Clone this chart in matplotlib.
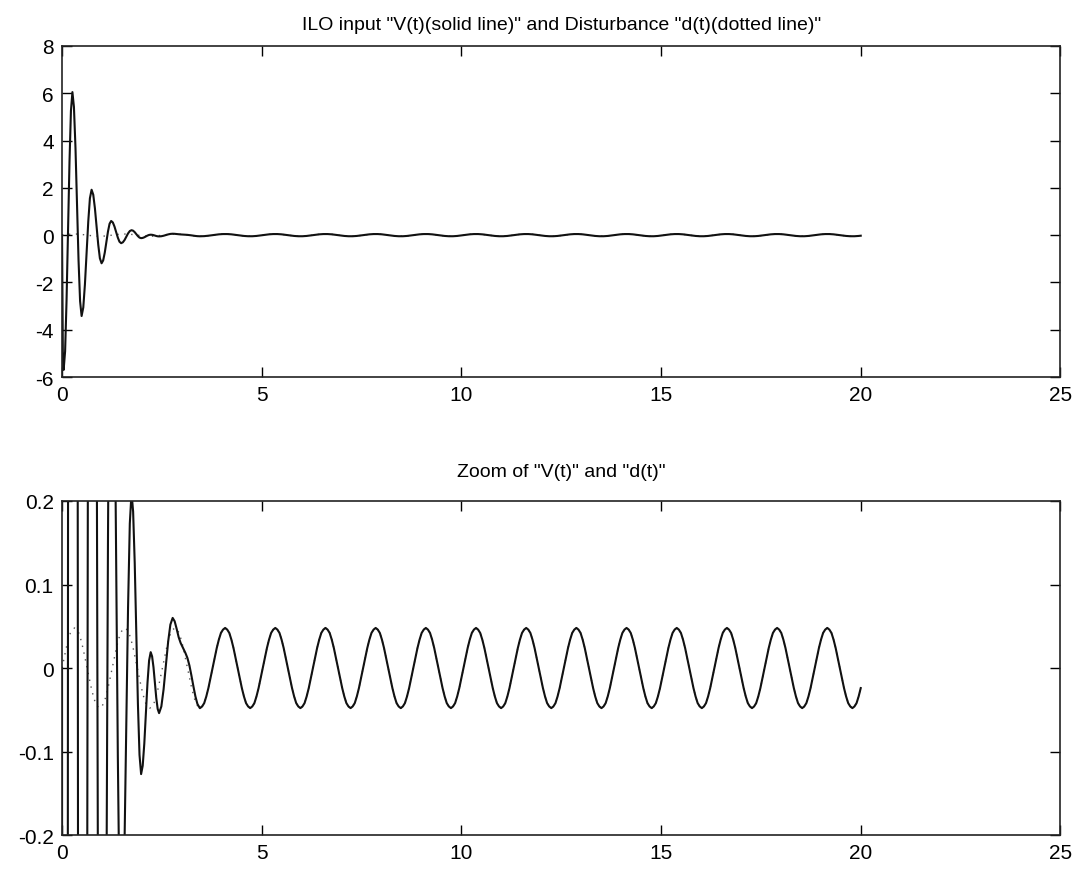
import matplotlib
matplotlib.use("Agg")
import matplotlib.pyplot as plt
import numpy as np

plt.rcParams['font.family'] = ['Liberation Sans', 'DejaVu Sans']
plt.rcParams['axes.unicode_minus'] = False

# transient part of the ILO input V(t), t in seconds
t_trans = [0.00, 0.01, 0.02, 0.03, 0.04,
           0.077, 0.113, 0.15, 0.187, 0.223, 0.26,
           0.298, 0.337, 0.375, 0.413, 0.452, 0.49,
           0.532, 0.573, 0.615, 0.657, 0.698, 0.74,
           0.782, 0.823, 0.865, 0.907, 0.948, 0.99,
           1.03, 1.07, 1.11, 1.15, 1.19, 1.23,
           1.272, 1.313, 1.355, 1.397, 1.438, 1.48,
           1.523, 1.567, 1.61, 1.653, 1.697, 1.74,
           1.78, 1.82, 1.86, 1.90, 1.94, 1.98,
           2.02, 2.06, 2.10, 2.14, 2.18, 2.22,
           2.255, 2.29, 2.325, 2.36, 2.395, 2.43,
           2.487, 2.543, 2.60, 2.657, 2.713, 2.77,
           2.82, 2.87, 2.92, 2.97, 3.03, 3.09, 3.14, 3.19, 3.24, 3.29, 3.34, 3.39, 3.45]
v_trans = [0.0, -2.8, -4.9, -5.55, -5.7,
           -4.91, -2.76, 0.175, 3.11, 5.26, 6.05,
           5.42, 3.68, 1.315, -1.05, -2.79, -3.42,
           -3.06, -2.085, -0.75, 0.585, 1.56, 1.92,
           1.71, 1.14, 0.365, -0.41, -0.98, -1.19,
           -1.07, -0.74, -0.295, 0.15, 0.48, 0.60,
           0.537, 0.365, 0.13, -0.105, -0.277, -0.34,
           -0.303, -0.2025, -0.065, 0.0725, 0.173, 0.21,
           0.1874, 0.126, 0.0415, -0.043, -0.104, -0.127,
           -0.117, -0.0905, -0.054, -0.0175, 0.009, 0.019,
           0.014, 0.001, -0.0175, -0.036, -0.049, -0.054,
           -0.046, -0.0255, 0.003, 0.0315, 0.052, 0.060,
           0.056, 0.047, 0.037, 0.030, 0.024, 0.018, 0.012, 0.003, -0.009, -0.022, -0.034, -0.043, -0.048]

# disturbance d(t), sampled on 383 equally spaced points over 0..20 s
d_vals = [
    0.0, 0.012, 0.024, 0.034, 0.042, 0.046, 0.048, 0.046, 0.042, 0.034, 0.024, 0.012,
    0.0, -0.012, -0.024, -0.034, -0.042, -0.046, -0.048, -0.046, -0.042, -0.034, -0.024, -0.012,
    0.0, 0.012, 0.024, 0.034, 0.042, 0.046, 0.048, 0.046, 0.042, 0.034, 0.024, 0.012,
    0.0, -0.012, -0.024, -0.034, -0.042, -0.046, -0.048, -0.046, -0.042, -0.034, -0.024, -0.012,
    0.0, 0.012, 0.024, 0.034, 0.042, 0.046, 0.048, 0.046, 0.042, 0.034, 0.024, 0.012,
    0.0, -0.012, -0.024, -0.034, -0.042, -0.046, -0.048, -0.046, -0.042, -0.034, -0.024, -0.012,
    0.0, 0.012, 0.024, 0.034, 0.042, 0.046, 0.048, 0.046, 0.042, 0.034, 0.024, 0.012,
    0.0, -0.012, -0.024, -0.034, -0.042, -0.046, -0.048, -0.046, -0.042, -0.034, -0.024, -0.012,
    0.0, 0.012, 0.024, 0.034, 0.042, 0.046, 0.048, 0.046, 0.042, 0.034, 0.024, 0.012,
    0.0, -0.012, -0.024, -0.034, -0.042, -0.046, -0.048, -0.046, -0.042, -0.034, -0.024, -0.012,
    0.0, 0.012, 0.024, 0.034, 0.042, 0.046, 0.048, 0.046, 0.042, 0.034, 0.024, 0.012,
    0.0, -0.012, -0.024, -0.034, -0.042, -0.046, -0.048, -0.046, -0.042, -0.034, -0.024, -0.012,
    0.0, 0.012, 0.024, 0.034, 0.042, 0.046, 0.048, 0.046, 0.042, 0.034, 0.024, 0.012,
    0.0, -0.012, -0.024, -0.034, -0.042, -0.046, -0.048, -0.046, -0.042, -0.034, -0.024, -0.012,
    0.0, 0.012, 0.024, 0.034, 0.042, 0.046, 0.048, 0.046, 0.042, 0.034, 0.024, 0.012,
    0.0, -0.012, -0.024, -0.034, -0.042, -0.046, -0.048, -0.046, -0.042, -0.034, -0.024, -0.012,
    0.0, 0.012, 0.024, 0.034, 0.042, 0.046, 0.048, 0.046, 0.042, 0.034, 0.024, 0.012,
    0.0, -0.012, -0.024, -0.034, -0.042, -0.046, -0.048, -0.046, -0.042, -0.034, -0.024, -0.012,
    0.0, 0.012, 0.024, 0.034, 0.042, 0.046, 0.048, 0.046, 0.042, 0.034, 0.024, 0.012,
    0.0, -0.012, -0.024, -0.034, -0.042, -0.046, -0.048, -0.046, -0.042, -0.034, -0.024, -0.012,
    0.0, 0.012, 0.024, 0.034, 0.042, 0.046, 0.048, 0.046, 0.042, 0.034, 0.024, 0.012,
    0.0, -0.012, -0.024, -0.034, -0.042, -0.046, -0.048, -0.046, -0.042, -0.034, -0.024, -0.012,
    0.0, 0.012, 0.024, 0.034, 0.042, 0.046, 0.048, 0.046, 0.042, 0.034, 0.024, 0.012,
    0.0, -0.012, -0.024, -0.034, -0.042, -0.046, -0.048, -0.046, -0.042, -0.034, -0.024, -0.012,
    0.0, 0.012, 0.024, 0.034, 0.042, 0.046, 0.048, 0.046, 0.042, 0.034, 0.024, 0.012,
    0.0, -0.012, -0.024, -0.034, -0.042, -0.046, -0.048, -0.046, -0.042, -0.034, -0.024, -0.012,
    0.0, 0.012, 0.024, 0.034, 0.042, 0.046, 0.048, 0.046, 0.042, 0.034, 0.024, 0.012,
    0.0, -0.012, -0.024, -0.034, -0.042, -0.046, -0.048, -0.046, -0.042, -0.034, -0.024, -0.012,
    0.0, 0.012, 0.024, 0.034, 0.042, 0.046, 0.048, 0.046, 0.042, 0.034, 0.024, 0.012,
    0.0, -0.012, -0.024, -0.034, -0.042, -0.046, -0.048, -0.046, -0.042, -0.034, -0.024, -0.012,
    0.0, 0.012, 0.024, 0.034, 0.042, 0.046, 0.048, 0.046, 0.042, 0.034, 0.024, 0.012,
    0.0, -0.012, -0.024, -0.034, -0.042, -0.046, -0.048, -0.046, -0.042, -0.034, -0.024,
]
t_d = np.linspace(0, 20, len(d_vals))

# after the transient has died out V(t) follows the disturbance
tail = t_d > t_trans[-1] + 0.005
t_v = np.concatenate([t_trans, t_d[tail]])
v = np.concatenate([v_trans, np.array(d_vals)[tail]])

xticks = [0, 5, 10, 15, 20, 25]
yticks_top = [-6, -4, -2, 0, 2, 4, 6, 8]
yticks_zoom = [-0.2, -0.1, 0, 0.1, 0.2]
ylabels_zoom = ['-0.2', '-0.1', '0', '0.1', '0.2']

fig = plt.figure(figsize=(10.77, 8.70), dpi=100)
ax1 = fig.add_axes([0.0576, 0.5655, 0.927, 0.3805])
ax2 = fig.add_axes([0.0576, 0.039, 0.927, 0.384])

for ax in (ax1, ax2):
    ax.plot(t_d, d_vals, color='#555555', lw=1.0, ls=(0, (1, 4)))
    ax.plot(t_v, v, color='#111111', lw=1.5)
    ax.set_xlim(0, 25)
    ax.set_xticks(xticks)
    ax.set_xticklabels([str(x) for x in xticks])
    ax.tick_params(direction='in', top=True, right=True, length=7,
                   width=1.0, labelsize=15, pad=6)
    for s in ax.spines.values():
        s.set_linewidth(1.2)
        s.set_color('#222222')

ax1.set_ylim(-6, 8)
ax1.set_yticks(yticks_top)
ax1.set_yticklabels([str(y) for y in yticks_top])
ax1.set_title('ILO input "V(t)(solid line)" and Disturbance "d(t)(dotted line)"',
              fontsize=14, pad=12)

ax2.set_ylim(-0.2, 0.2)
ax2.set_yticks(yticks_zoom)
ax2.set_yticklabels(ylabels_zoom)
ax2.set_title('Zoom of "V(t)" and "d(t)"', fontsize=14, pad=18)

fig.savefig('out.png', dpi=100)
